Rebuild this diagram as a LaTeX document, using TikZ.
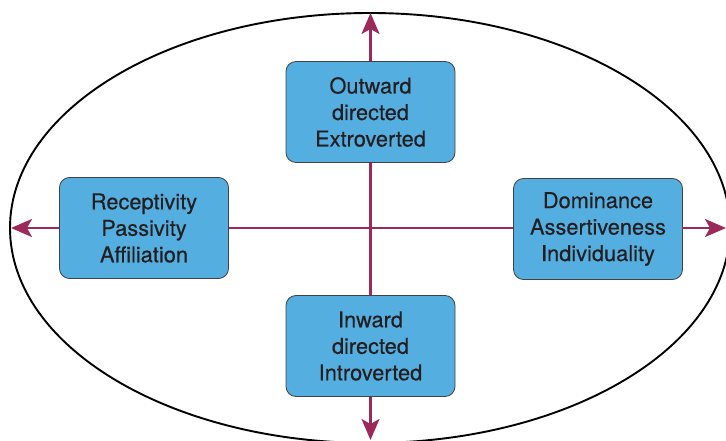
\documentclass[tikz,border=0pt]{standalone}
\usepackage{fontspec}
\setmainfont{TeX Gyre Heros}[FakeBold=0.35]
\usetikzlibrary{arrows.meta}
\definecolor{boxblue}{HTML}{55AEE0}
\definecolor{axiscol}{HTML}{9B2A5A}
\definecolor{inkdark}{HTML}{231F20}
\begin{document}
\begin{tikzpicture}[x=1pt,y=-1pt,
  traitbox/.style={draw=inkdark!85, line width=0.8pt, fill=boxblue, rounded corners=10pt,
    minimum width=169pt, minimum height=101pt, align=center, text=inkdark,
    font=\fontsize{21.8}{26.5}\selectfont, inner sep=0pt},
  axis/.style={draw=axiscol, line width=2.4pt},
  axisarrow/.style={axis, -{Stealth[length=21pt,width=18pt,inset=5pt]}}]
  \useasboundingbox (0,0) rectangle (726,441);
  % outer boundary
  \draw[line width=1.9pt, black] (370,228) ellipse [x radius=360, y radius=215];
  % the four trait boxes
  \node[traitbox] (up) at (370.5,112) {Outward\\directed\\Extroverted};
  \node[traitbox] (down) at (370.5,346) {Inward\\directed\\Introverted};
  \node[traitbox] (left) at (144,228) {Receptivity\\Passivity\\Affiliation};
  \node[traitbox] (right) at (598,229) {Dominance\\Assertiveness\\Individuality};
  % end points of the axes
  \coordinate (tipU) at (370.5,13);
  \coordinate (tipD) at (370.5,440);
  \coordinate (tipL) at (11,228);
  \coordinate (tipR) at (726,228);
  % axes
  \draw[axis] (up.south) -- (down.north);
  \draw[axis] (left.east) -- (left.east -| right.west);
  \draw[axisarrow] (up.north) -- (tipU);
  \draw[axisarrow] (down.south) -- (tipD);
  \draw[axisarrow] (left.west) -- (tipL);
  \draw[axisarrow] (right.west |- tipR) ++(169,0) -- (tipR);
\end{tikzpicture}
\end{document}
